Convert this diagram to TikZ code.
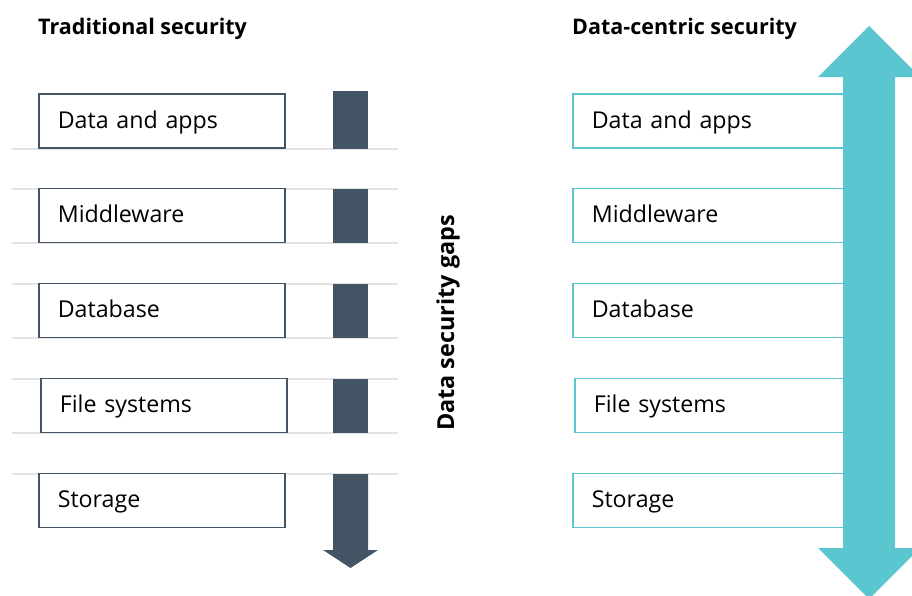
\documentclass[tikz,border=0pt]{standalone}
\usepackage{fontspec}
\setmainfont{Open Sans}
\definecolor{slate}{HTML}{435464}
\definecolor{dcteal}{HTML}{5BC5D0}
\definecolor{gapline}{HTML}{E3E3E3}
\tikzset{
    layer/.style={
        draw=slate,
        line width=1.6pt,
        fill=white,
        minimum height=54pt,
        text width=208pt,
        text height=14pt,
        text depth=0pt,
        inner xsep=19pt,
        align=left,
        font=\fontsize{23.2}{26}\selectfont},
    datalayer/.style={
        layer,
        draw=dcteal,
        text width=240pt},
    heading/.style={
        font=\fontsize{21.5}{24}\selectfont\bfseries},
    gaplabel/.style={
        font=\fontsize{23.4}{26}\selectfont\bfseries},
    gap/.style={
        draw=gapline,
        line width=1.6pt},
    bar/.style={
        fill=slate,
        draw=none},
    wide arrow/.style={
        fill=dcteal,
        draw=none}
}

\begin{document}
\begin{tikzpicture}[x=1pt, y=-1pt]
\useasboundingbox (0,0) rectangle (912,595);

% separators between the layers
\foreach \top/\bottom in {149/189, 243/284, 338/379, 433/474}{
    \draw [gap] (12,\top) -- (398,\top);
    \draw [gap] (12,\bottom) -- (398,\bottom);
}

% traditional stack
\node [heading, anchor=base west, inner xsep=0pt] (trad-title) at (38,34) {Traditional security};
\foreach \y/\x/\name/\txt in {121/38/apps/Data and apps, 215.5/38/middleware/Middleware, 310.5/38/database/Database, 405.5/40/files/File systems, 500.5/38/storage/Storage}{
    \node [layer, anchor=west] (trad-\name) at (\x,\y) {\txt};
}

% gaps in the protection
\foreach \top/\bottom in {91/149, 189/243, 284/338, 379/433}{
    \path [bar] (333,\top) rectangle (368,\bottom);
}
\path [bar] (333,474) -- (368,474) -- (368,550) -- (378,550) -- (350.5,568)
    -- (323,550) -- (333,550) -- cycle;

\node [gaplabel, rotate=90] (gaps) at (448,323) {Data security gaps};

% data-centric stack
\node [heading, anchor=base west, inner xsep=0pt] (dc-title) at (572,34) {Data-centric security};
\foreach \y/\x/\name/\txt in {121/572/apps/Data and apps, 215.5/572/middleware/Middleware, 310.5/572/database/Database, 405.5/574/files/File systems, 500.5/572/storage/Storage}{
    \node [datalayer, anchor=west] (dc-\name) at (\x,\y) {\txt};
}

\path [wide arrow] (869,26) -- (920,77) -- (895,77) -- (895,548) -- (920,548)
    -- (869,599) -- (818,548) -- (843,548) -- (843,77) -- (818,77) -- cycle;

\end{tikzpicture}
\end{document}
